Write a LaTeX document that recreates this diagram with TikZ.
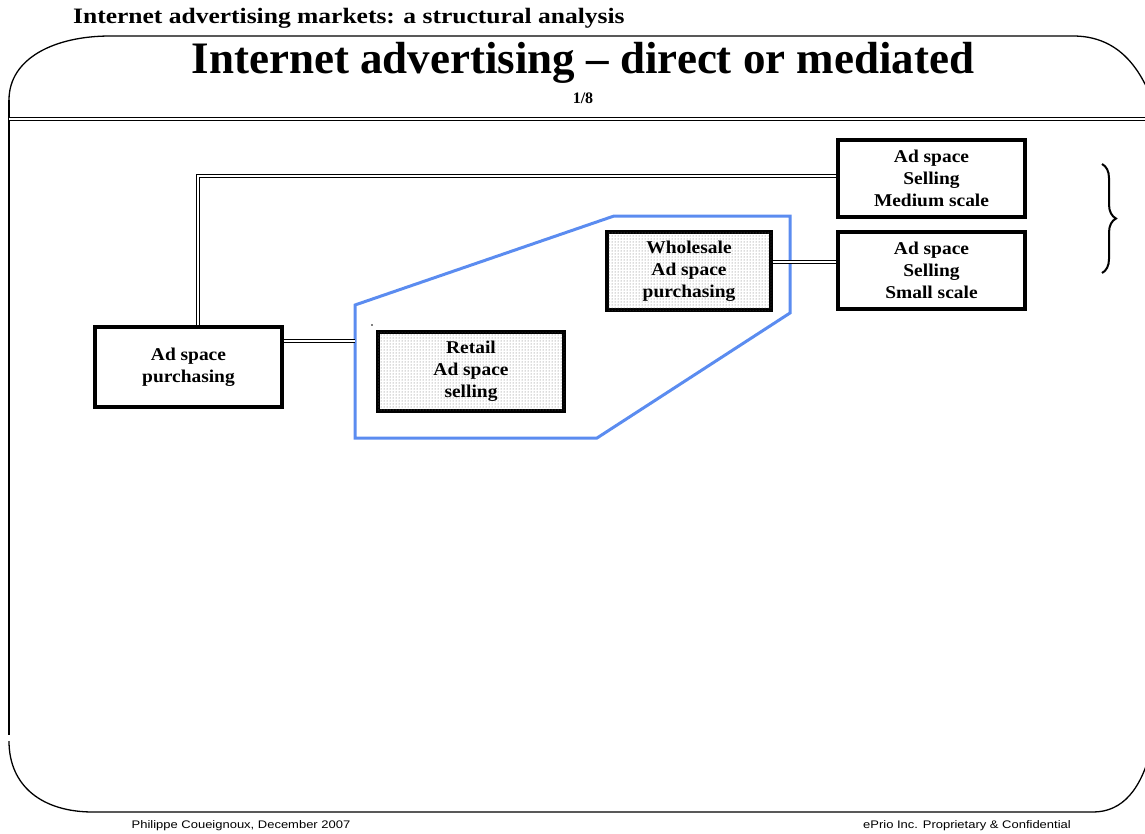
\documentclass[tikz,border=0pt]{standalone}
\usepackage{fontspec}
\setmainfont{Liberation Serif}
\newfontfamily\footfont[FakeStretch=1.18]{Liberation Sans}
\newfontfamily\headfont[FakeStretch=1.16]{Liberation Serif}
\newfontfamily\boxfont[FakeStretch=1.08]{Liberation Serif}
\usetikzlibrary{patterns,decorations.pathreplacing}
\definecolor{polyblue}{RGB}{91,140,240}
\begin{document}
\begin{tikzpicture}[x=1pt,y=-1pt,
  frame/.style={line width=1.3pt,black},
  dbl/.style={double=white,double distance=1.6pt,line width=0.9pt,black},
  boxtext/.style={font=\boxfont\fontsize{18}{22}\selectfont\bfseries,align=center,inner sep=0pt},
  plainbox/.style={draw=black,line width=3.3pt,fill=white,boxtext},
  dotbox/.style={draw=black,line width=3.3pt,boxtext,fill=white,postaction={pattern=dots,pattern color=black!60}},
]
\useasboundingbox (0,0) rectangle (1145,833);
% frame
\draw[frame] (9,100) .. controls (9,58) and (55,36) .. (110,36) -- (1073,36)
  .. controls (1108,36) and (1135,55) .. (1152,100);
\draw[frame] (9,100) -- (9,735);
\draw[frame] (9,741) .. controls (9,786) and (42,812) .. (93,812) -- (1093,812)
  .. controls (1122,812) and (1142,790) .. (1152,745);
% header double rule
\draw[double=white,double distance=1.8pt,line width=0.9pt] (9,119) -- (1145,119);
% texts
\node[anchor=west,inner sep=0pt,font=\headfont\fontsize{22}{24}\selectfont\bfseries] (head) at (73,18) {Internet advertising markets: a structural analysis};
\node[inner sep=0pt,font=\fontsize{45}{48}\selectfont\bfseries] (title) at (583,63) {Internet advertising -- direct or mediated};
\node[inner sep=0pt,font=\fontsize{16}{18}\selectfont\bfseries] (page) at (583,98) {1/8};
\node[inner sep=0pt,font=\footfont\fontsize{11}{12}\selectfont] (footl) at (241,826) {Philippe Coueignoux, December 2007};
\node[inner sep=0pt,font=\footfont\fontsize{11}{12}\selectfont] (footr) at (967,826) {ePrio Inc. Proprietary \& Confidential};
% blue polygon
\draw[polyblue,line width=3pt,line join=miter] (355,305) -- (614,216) -- (790,216) -- (790,313) -- (597,438) -- (355,438) -- cycle;
\coordinate (polyedge) at (355,341);
% boxes
\node[plainbox,minimum width=187pt,minimum height=80pt] (purch) at (188.5,367) {Ad space\\purchasing};
\node[dotbox,minimum width=186pt,minimum height=79pt] (retail) at (471,371.5) {Retail\\Ad space\\selling};
\node[dotbox,minimum width=164pt,minimum height=78pt] (whole) at (689,271) {Wholesale\\Ad space\\purchasing};
\node[plainbox,minimum width=187pt,minimum height=77pt] (medium) at (931.5,178.5) {Ad space\\Selling\\Medium scale};
\node[plainbox,minimum width=187pt,minimum height=77pt] (small) at (931.5,270.5) {Ad space\\Selling\\Small scale};
% connectors
\draw[dbl] (purch.north -| 198,0) -- (198,176) -- (medium.west |- 0,176);
\draw[dbl] (purch.east |- 0,341) -- (polyedge);
\draw[dbl] (whole.east |- 0,262) -- (small.west |- 0,262);
% dot
\fill (372,325) circle (0.8pt);
% brace
\coordinate (bt) at (1102,164);
\coordinate (bb) at (1102,273);
\draw[decorate,decoration={brace,amplitude=14pt},line width=2pt] (bt) -- (bb);
\end{tikzpicture}
\end{document}
